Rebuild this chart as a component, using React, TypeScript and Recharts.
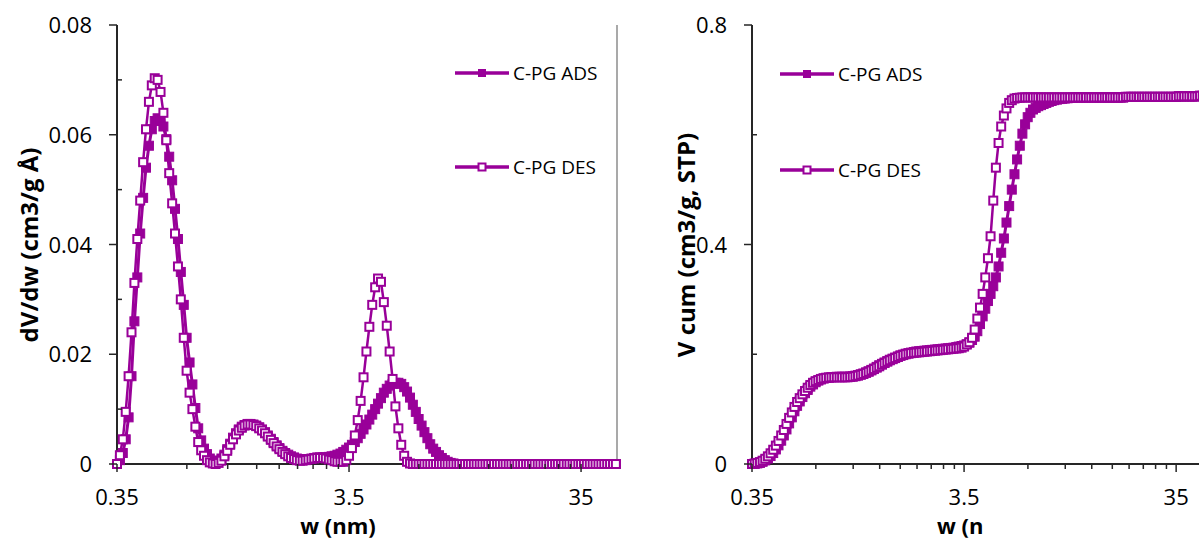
import React from 'react';
import { LineChart, Line, XAxis, YAxis, Legend, ReferenceLine } from 'recharts';

const PURPLE = '#990099';
const AXIS = '#262626';
const FONT = '"Open Sans", sans-serif';

// pore width w (nm)
const widths = [
  0.35, 0.3602, 0.3707, 0.3816, 0.3927, 0.4042, 0.416, 0.4282, 0.4406, 0.4536,
  0.4667, 0.4805, 0.4944, 0.509, 0.5237, 0.5392, 0.5547, 0.5711, 0.5876, 0.605,
  0.6224, 0.6409, 0.6593, 0.6789, 0.6983, 0.7191, 0.7397, 0.7618, 0.7835, 0.8069,
  0.8299, 0.8548, 0.8791, 0.9055, 0.9312, 0.9592, 0.9864, 1.016, 1.0448, 1.0763,
  1.1068, 1.1401, 1.1723, 1.2077, 1.2418, 1.2793, 1.3154, 1.3552, 1.3933, 1.4355,
  1.4759, 1.5206, 1.5633, 1.6108, 1.6559, 1.7063, 1.7541, 1.8074, 1.858, 1.9146,
  1.9682, 2.0281, 2.0848, 2.1484, 2.2083, 2.2758, 2.3392, 2.4107, 2.4778, 2.5537,
  2.6246, 2.7051, 2.7802, 2.8655, 2.9449, 3.0354, 3.1194, 3.2154, 3.3043, 3.406,
  3.5, 3.602, 3.707, 3.816, 3.927, 4.042, 4.16, 4.282, 4.406, 4.536,
  4.667, 4.805, 4.944, 5.09, 5.237, 5.392, 5.547, 5.711, 5.876, 6.05,
  6.224, 6.409, 6.593, 6.789, 6.983, 7.191, 7.397, 7.618, 7.835, 8.069,
  8.299, 8.548, 8.791, 9.055, 9.312, 9.592, 9.864, 10.16, 10.448, 10.763,
  11.068, 11.401, 11.723, 12.077, 12.418, 12.793, 13.154, 13.552, 13.933, 14.355,
  14.759, 15.206, 15.633, 16.108, 16.559, 17.063, 17.541, 18.074, 18.58, 19.146,
  19.682, 20.281, 20.848, 21.484, 22.083, 22.758, 23.392, 24.107, 24.778, 25.537,
  26.246, 27.051, 27.802, 28.655, 29.449, 30.354, 31.194, 32.154, 33.043, 34.06,
  35.0, 36.02, 37.07, 38.16, 39.27, 40.42, 41.6, 42.82, 44.06, 45.36,
  46.67, 48.05, 49.44,
];

// dV/dw (cm3/g Å)
const dvAds = [
  0, 0.0007, 0.002, 0.0045, 0.0085, 0.016, 0.026, 0.034, 0.042, 0.0485,
  0.054, 0.058, 0.061, 0.0625, 0.063, 0.0627, 0.0615, 0.0592, 0.056, 0.0517,
  0.0465, 0.041, 0.035, 0.029, 0.023, 0.0185, 0.0145, 0.0102, 0.0065, 0.0043,
  0.0028, 0.0018, 0.001, 0.0006, 0.0004, 0.0006, 0.001, 0.0017, 0.0027, 0.0037,
  0.0048, 0.0056, 0.0063, 0.0068, 0.0071, 0.0073, 0.0073, 0.0072, 0.007, 0.0067,
  0.0063, 0.0058, 0.0052, 0.0046, 0.004, 0.0034, 0.0029, 0.0024, 0.002, 0.0017,
  0.0014, 0.0012, 0.001, 0.0009, 0.0009, 0.0009, 0.0009, 0.001, 0.0011, 0.0012,
  0.0012, 0.0012, 0.0012, 0.0013, 0.0014, 0.0015, 0.0017, 0.0019, 0.0022, 0.0026,
  0.003, 0.0035, 0.004, 0.0047, 0.0055, 0.0063, 0.0072, 0.0081, 0.009, 0.01,
  0.011, 0.012, 0.013, 0.0137, 0.0143, 0.0146, 0.0148, 0.0148, 0.0146, 0.014,
  0.0132, 0.0121, 0.0108, 0.0095, 0.0082, 0.007, 0.0058, 0.0047, 0.0036, 0.0028,
  0.0022, 0.0016, 0.0011, 0.0007, 0.0004, 0.0002, 0.0001, 0, 0, 0,
  0, 0, 0, 0, 0, 0, 0, 0, 0, 0,
  0, 0, 0, 0, 0, 0, 0, 0, 0, 0,
  0, 0, 0, 0, 0, 0, 0, 0, 0, 0,
  0, 0, 0, 0, 0, 0, 0, 0, 0, 0,
  0, 0, 0, 0, 0, 0, 0, 0, 0, 0,
  0, 0, 0,
];
const dvDes = [
  0, 0.0016, 0.0045, 0.0095, 0.016, 0.024, 0.033, 0.041, 0.048, 0.055,
  0.061, 0.066, 0.069, 0.0703, 0.07, 0.0678, 0.064, 0.059, 0.053, 0.0475,
  0.042, 0.036, 0.03, 0.023, 0.017, 0.013, 0.01, 0.0068, 0.004, 0.0025,
  0.0015, 0.0007, 0.0003, 0.0001, 0, 0.0002, 0.0006, 0.0014, 0.0024, 0.0035,
  0.0045, 0.0054, 0.0061, 0.0066, 0.007, 0.0072, 0.0072, 0.0071, 0.0069, 0.0065,
  0.0061, 0.0056, 0.005, 0.0044, 0.0038, 0.0032, 0.0027, 0.0022, 0.0018, 0.0014,
  0.0011, 0.0009, 0.0007, 0.0006, 0.0006, 0.0007, 0.0008, 0.0009, 0.001, 0.0011,
  0.0011, 0.0011, 0.001, 0.0008, 0.0007, 0.0005, 0.0004, 0.0004, 0.0004, 0.0007,
  0.0015, 0.0029, 0.0052, 0.008, 0.0115, 0.0158, 0.0205, 0.025, 0.029, 0.0322,
  0.0338, 0.0332, 0.0295, 0.0252, 0.0205, 0.0155, 0.0105, 0.0065, 0.0035, 0.0015,
  0.0004, 0.0001, 0, 0, 0, 0, 0, 0, 0, 0,
  0, 0, 0, 0, 0, 0, 0, 0, 0, 0,
  0, 0, 0, 0, 0, 0, 0, 0, 0, 0,
  0, 0, 0, 0, 0, 0, 0, 0, 0, 0,
  0, 0, 0, 0, 0, 0, 0, 0, 0, 0,
  0, 0, 0, 0, 0, 0, 0, 0, 0, 0,
  0, 0, 0, 0, 0, 0, 0, 0, 0, 0,
  0, 0, 0,
];

// V cum (cm3/g, STP)
const cumAds = [
  0, 0.0003, 0.001, 0.002, 0.004, 0.0065, 0.01, 0.0145, 0.02, 0.0265,
  0.034, 0.0425, 0.052, 0.063, 0.074, 0.085, 0.096, 0.106, 0.114, 0.122,
  0.129, 0.135, 0.141, 0.145, 0.149, 0.152, 0.154, 0.156, 0.157, 0.1575,
  0.158, 0.1585, 0.159, 0.159, 0.159, 0.159, 0.159, 0.1595, 0.16, 0.161,
  0.162, 0.1635, 0.165, 0.167, 0.169, 0.1715, 0.174, 0.177, 0.18, 0.1825,
  0.185, 0.1875, 0.19, 0.192, 0.194, 0.196, 0.198, 0.1995, 0.201, 0.202,
  0.203, 0.204, 0.205, 0.2055, 0.206, 0.2065, 0.207, 0.2075, 0.208, 0.2085,
  0.209, 0.2095, 0.21, 0.2105, 0.211, 0.2115, 0.212, 0.213, 0.214, 0.215,
  0.216, 0.218, 0.221, 0.226, 0.232, 0.242, 0.255, 0.269, 0.283, 0.297,
  0.31, 0.324, 0.34, 0.36, 0.385, 0.411, 0.44, 0.47, 0.5, 0.528,
  0.555, 0.58, 0.602, 0.619, 0.632, 0.64, 0.646, 0.649, 0.652, 0.654,
  0.656, 0.658, 0.66, 0.6615, 0.663, 0.664, 0.665, 0.6655, 0.666, 0.6665,
  0.667, 0.6675, 0.668, 0.668, 0.668, 0.668, 0.668, 0.668, 0.668, 0.668,
  0.668, 0.668, 0.668, 0.668, 0.668, 0.668, 0.668, 0.668, 0.668, 0.668,
  0.668, 0.669, 0.669, 0.669, 0.669, 0.669, 0.669, 0.669, 0.669, 0.669,
  0.669, 0.669, 0.669, 0.669, 0.669, 0.669, 0.669, 0.669, 0.669, 0.669,
  0.669, 0.67, 0.67, 0.67, 0.67, 0.67, 0.67, 0.67, 0.67, 0.671,
  0.671, 0.672, 0.672,
];
const cumDes = [
  0, 0.0008, 0.002, 0.0035, 0.006, 0.0095, 0.014, 0.0195, 0.026, 0.0335,
  0.042, 0.052, 0.062, 0.073, 0.084, 0.094, 0.104, 0.113, 0.12, 0.127,
  0.133, 0.139, 0.144, 0.148, 0.151, 0.153, 0.155, 0.156, 0.157, 0.1575,
  0.158, 0.158, 0.158, 0.158, 0.158, 0.158, 0.158, 0.1585, 0.159, 0.16,
  0.161, 0.1625, 0.164, 0.166, 0.168, 0.1705, 0.173, 0.1755, 0.178, 0.181,
  0.184, 0.1865, 0.189, 0.191, 0.193, 0.195, 0.197, 0.1985, 0.2, 0.201,
  0.202, 0.2025, 0.203, 0.2035, 0.204, 0.2045, 0.205, 0.2055, 0.206, 0.2065,
  0.207, 0.2075, 0.208, 0.2085, 0.209, 0.2095, 0.21, 0.2105, 0.211, 0.212,
  0.214, 0.218, 0.222, 0.23, 0.245, 0.265, 0.285, 0.31, 0.34, 0.375,
  0.415, 0.48, 0.54, 0.585, 0.615, 0.635, 0.648, 0.658, 0.663, 0.666,
  0.667, 0.6675, 0.668, 0.668, 0.668, 0.668, 0.668, 0.668, 0.668, 0.668,
  0.668, 0.668, 0.668, 0.668, 0.668, 0.668, 0.668, 0.668, 0.668, 0.668,
  0.668, 0.668, 0.668, 0.668, 0.668, 0.668, 0.668, 0.668, 0.668, 0.668,
  0.668, 0.668, 0.668, 0.668, 0.668, 0.668, 0.668, 0.668, 0.668, 0.668,
  0.668, 0.669, 0.669, 0.669, 0.669, 0.669, 0.669, 0.669, 0.669, 0.669,
  0.669, 0.669, 0.669, 0.669, 0.669, 0.669, 0.669, 0.669, 0.669, 0.669,
  0.669, 0.67, 0.67, 0.67, 0.67, 0.67, 0.67, 0.67, 0.67, 0.671,
  0.671, 0.672, 0.672,
];

const xMajor = [0.35, 3.5, 35];
const xMinor = [0.7, 1.05, 1.4, 1.75, 2.1, 2.45, 2.8, 3.15, 7, 10.5, 14, 17.5, 21, 24.5, 28, 31.5];
const dvMajor = [0, 0.02, 0.04, 0.06, 0.08];
const dvMinor = [0.01, 0.03, 0.05, 0.07];
const cumMajor = [0, 0.4, 0.8];
const cumMinor = [0.2, 0.6];

const psdData = widths.map((w, i) => ({ w, ads: dvAds[i], des: dvDes[i] }));
const cumData = widths.map((w, i) => ({ w, ads: cumAds[i], des: cumDes[i] }));

const XTick = (props: any) => {
  const { x, y, payload } = props;
  const major = xMajor.includes(payload.value);
  return (
    <g>
      <line x1={x} x2={x} y1={y} y2={y + (major ? 8 : 5)} stroke={AXIS} strokeWidth={1.5} />
      {major && (
        <text x={x} y={y + 41} textAnchor="middle" fontSize={22} fontFamily={FONT} fill="#000">
          {payload.value}
        </text>
      )}
    </g>
  );
};

const makeYTick = (majors: number[]) => (props: any) => {
  const { x, y, payload } = props;
  const major = majors.includes(payload.value);
  return (
    <g>
      <line x1={major ? x - 8 : x} x2={major ? x : x + 5} y1={y} y2={y} stroke={AXIS} strokeWidth={1.5} />
      {major && (
        <text x={x - 25} y={y + 8} textAnchor="end" fontSize={22} fontFamily={FONT} fill="#000">
          {payload.value}
        </text>
      )}
    </g>
  );
};

const AxisTitle = ({ tx, ty, caption, vertical, size, anchor = 'middle' }: any) => (
  <text
    x={tx}
    y={ty}
    textAnchor={anchor}
    dominantBaseline={vertical ? 'central' : 'auto'}
    transform={vertical ? `rotate(-90 ${tx} ${ty})` : undefined}
    fontFamily={FONT}
    fontSize={size}
    fontWeight={700}
    fill="#000"
  >
    {caption}
  </text>
);

const filledDot = (p: any) => (
  <rect key={`a-${p.index}`} x={p.cx - 4.5} y={p.cy - 4.5} width={9} height={9} fill={PURPLE} stroke={PURPLE} strokeWidth={1} />
);
const hollowDot = (p: any) => (
  <rect key={`d-${p.index}`} x={p.cx - 4} y={p.cy - 4} width={8} height={8} fill="#fff" stroke={PURPLE} strokeWidth={2} />
);

const renderLegend = (gap: number) => (props: any) => (
  <div style={{ display: 'flex', flexDirection: 'column', gap }}>
    {(props.payload || []).map((e: any) => (
      <div key={e.value} style={{ display: 'flex', alignItems: 'center', height: 24 }}>
        <svg width={54} height={24}>
          <line x1={0} x2={54} y1={12} y2={12} stroke={PURPLE} strokeWidth={3.5} />
          {e.dataKey === 'ads' ? (
            <rect x={23} y={8} width={8} height={8} fill={PURPLE} />
          ) : (
            <rect x={23.5} y={8.5} width={7} height={7} fill="#fff" stroke={PURPLE} strokeWidth={2} />
          )}
        </svg>
        <span style={{ marginLeft: 4, fontSize: 19, fontFamily: FONT, color: '#000', whiteSpace: 'nowrap' }}>
          {e.value}
        </span>
      </div>
    ))}
  </div>
);

const axisLine = { stroke: AXIS, strokeWidth: 2 };

export default function App() {
  return (
    <div style={{ position: 'absolute', left: 0, top: 0, width: 1199, height: 540, overflow: 'hidden', background: '#fff', fontFamily: FONT }}>
      {/* pore size distribution */}
      <div style={{ position: 'absolute', left: 0, top: 0 }}>
        <LineChart width={650} height={540} data={psdData} margin={{ top: 25, right: 33, bottom: 0, left: 0 }}>
          <XAxis
            dataKey="w"
            type="number"
            scale="log"
            domain={[0.35, 50]}
            ticks={[...xMajor, ...xMinor]}
            interval={0}
            height={76}
            tickSize={0}
            tickMargin={0}
            tickLine={false}
            axisLine={axisLine}
            tick={XTick}
            label={<AxisTitle tx={338} ty={534} caption="w (nm)" size={22} />}
          />
          <YAxis
            type="number"
            domain={[0, 0.08]}
            ticks={[...dvMajor, ...dvMinor]}
            interval={0}
            width={117}
            tickSize={0}
            tickMargin={0}
            tickLine={false}
            axisLine={axisLine}
            tick={makeYTick(dvMajor)}
            label={<AxisTitle tx={28} ty={245} caption="dV/dw (cm3/g Å)" vertical size={24} />}
          />
          <ReferenceLine x={50} stroke="#8c8c8c" strokeWidth={1.5} />
          <Legend
            layout="vertical"
            align="center"
            verticalAlign="middle"
            wrapperStyle={{ left: 455, top: 61, width: 170 }}
            content={renderLegend(70)}
          />
          <Line type="linear" dataKey="ads" name="C-PG ADS" stroke={PURPLE} strokeWidth={3} dot={filledDot} activeDot={false} isAnimationActive={false} />
          <Line type="linear" dataKey="des" name="C-PG DES" stroke={PURPLE} strokeWidth={2.5} dot={hollowDot} activeDot={false} isAnimationActive={false} />
        </LineChart>
      </div>

      {/* cumulative pore volume */}
      <div style={{ position: 'absolute', left: 640, top: 0 }}>
        <LineChart width={569} height={540} data={cumData} margin={{ top: 25, right: 0, bottom: 0, left: 0 }}>
          <XAxis
            dataKey="w"
            type="number"
            scale="log"
            domain={[0.35, 50]}
            ticks={[...xMajor, ...xMinor]}
            interval={0}
            height={76}
            tickSize={0}
            tickMargin={0}
            tickLine={false}
            axisLine={axisLine}
            tick={XTick}
            label={<AxisTitle tx={297} ty={534} caption="w (n" anchor="start" size={22} />}
          />
          <YAxis
            type="number"
            domain={[0, 0.8]}
            ticks={[...cumMajor, ...cumMinor]}
            interval={0}
            width={112}
            tickSize={0}
            tickMargin={0}
            tickLine={false}
            axisLine={axisLine}
            tick={makeYTick(cumMajor)}
            label={<AxisTitle tx={45} ty={245} caption="V cum (cm3/g, STP)" vertical size={24} />}
          />
          <Legend
            layout="vertical"
            align="center"
            verticalAlign="middle"
            wrapperStyle={{ left: 140, top: 62, width: 170 }}
            content={renderLegend(72)}
          />
          <Line type="linear" dataKey="ads" name="C-PG ADS" stroke={PURPLE} strokeWidth={3} dot={filledDot} activeDot={false} isAnimationActive={false} />
          <Line type="linear" dataKey="des" name="C-PG DES" stroke={PURPLE} strokeWidth={2.5} dot={hollowDot} activeDot={false} isAnimationActive={false} />
        </LineChart>
      </div>
    </div>
  );
}
